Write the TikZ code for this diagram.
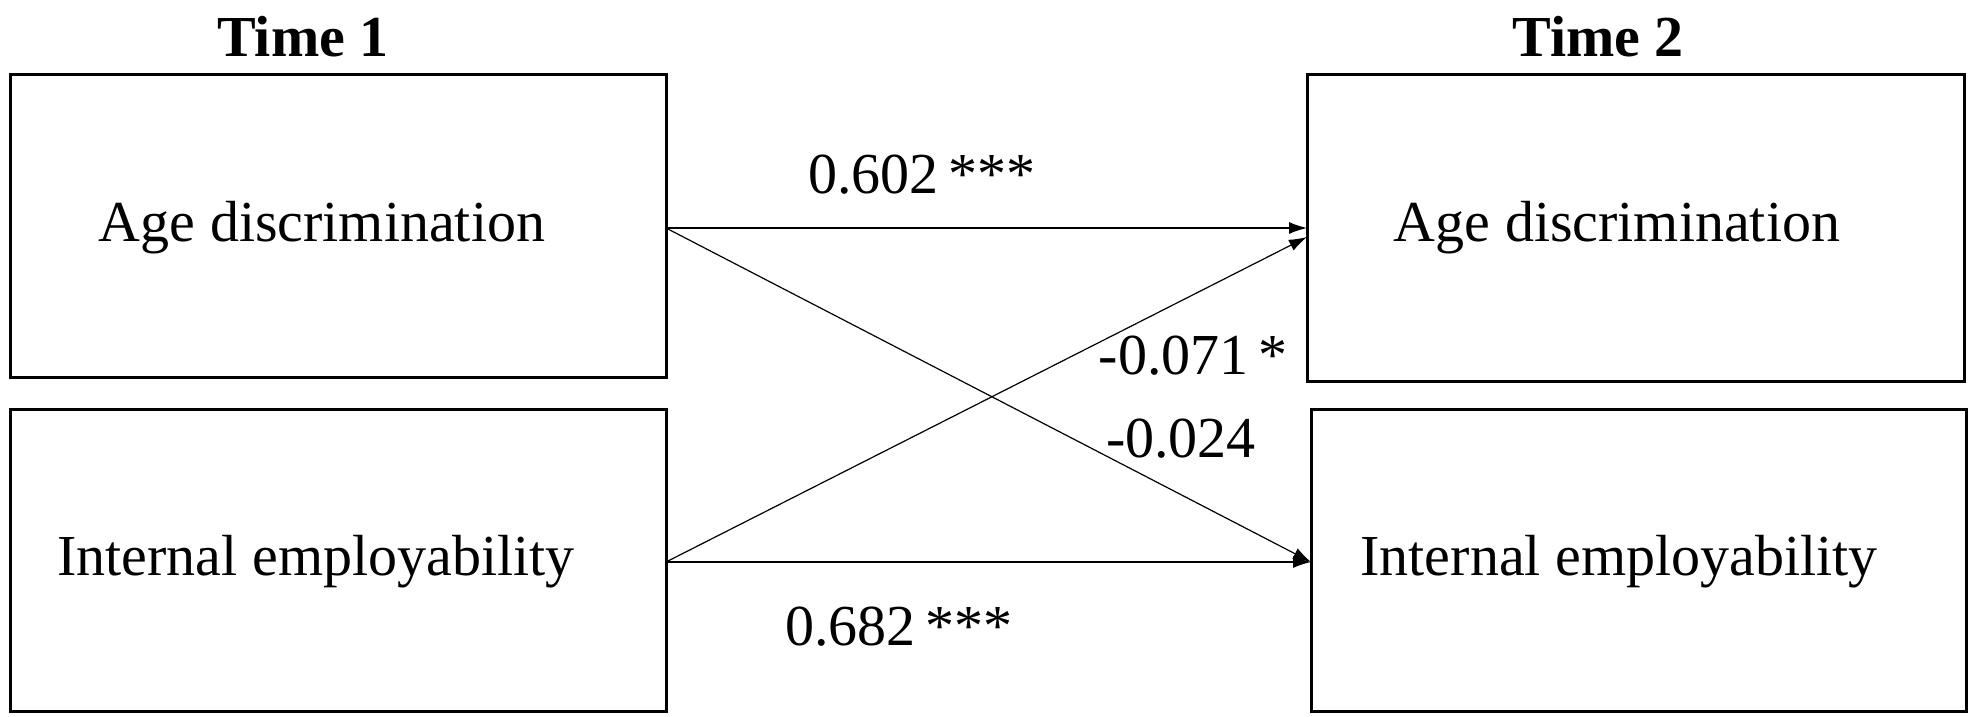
\documentclass[tikz,border=0pt]{standalone}
\usepackage{fontspec}
\setmainfont{Liberation Serif}
\usetikzlibrary{arrows.meta}
\begin{document}
\begin{tikzpicture}[x=0.5pt,y=-0.5pt,
  box/.style={draw,line width=1.5pt},
  lbl/.style={font=\fontsize{29}{34}\selectfont},
  conn/.style={line width=0.6pt,-{Latex[length=9pt,width=6pt]}}]
\useasboundingbox (0,0) rectangle (1970,717);
\draw[box] (10,75) rectangle (666,377);
\draw[box] (10,409) rectangle (666,711);
\draw[box] (1307,75) rectangle (1964,381);
\draw[box] (1311,409) rectangle (1966,711);
\node[lbl,font=\fontsize{29}{34}\selectfont\bfseries] (t1) at (303,37) {Time 1};
\node[lbl,font=\fontsize{29}{34}\selectfont\bfseries] (t2) at (1598,37) {Time 2};
\node[lbl] (a1) at (322,228) {Age discrimination};
\node[lbl] (e1) at (316,562) {Internal employability};
\node[lbl] (a2) at (1617,228) {Age discrimination};
\node[lbl] (e2) at (1619,562) {Internal employability};
\coordinate (a1o) at (666,228);
\coordinate (e1o) at (666,562);
\coordinate (a2i) at (1307,228);
\coordinate (a2j) at (1307,237);
\coordinate (e2i) at (1311,562);
\draw[conn] (a1o) -- (a2i);
\draw[conn] (e1o) -- (e2i);
\draw[conn] (a1o) -- (e2i);
\draw[conn] (e1o) -- (a2j);
\node[lbl] (l1) at (922,175) {0.602\,***};
\node[lbl] (l2) at (1193,356) {-0.071\,*};
\node[lbl] (l3) at (1181,439) {-0.024};
\node[lbl] (l4) at (899,627) {0.682\,***};
\end{tikzpicture}
\end{document}
